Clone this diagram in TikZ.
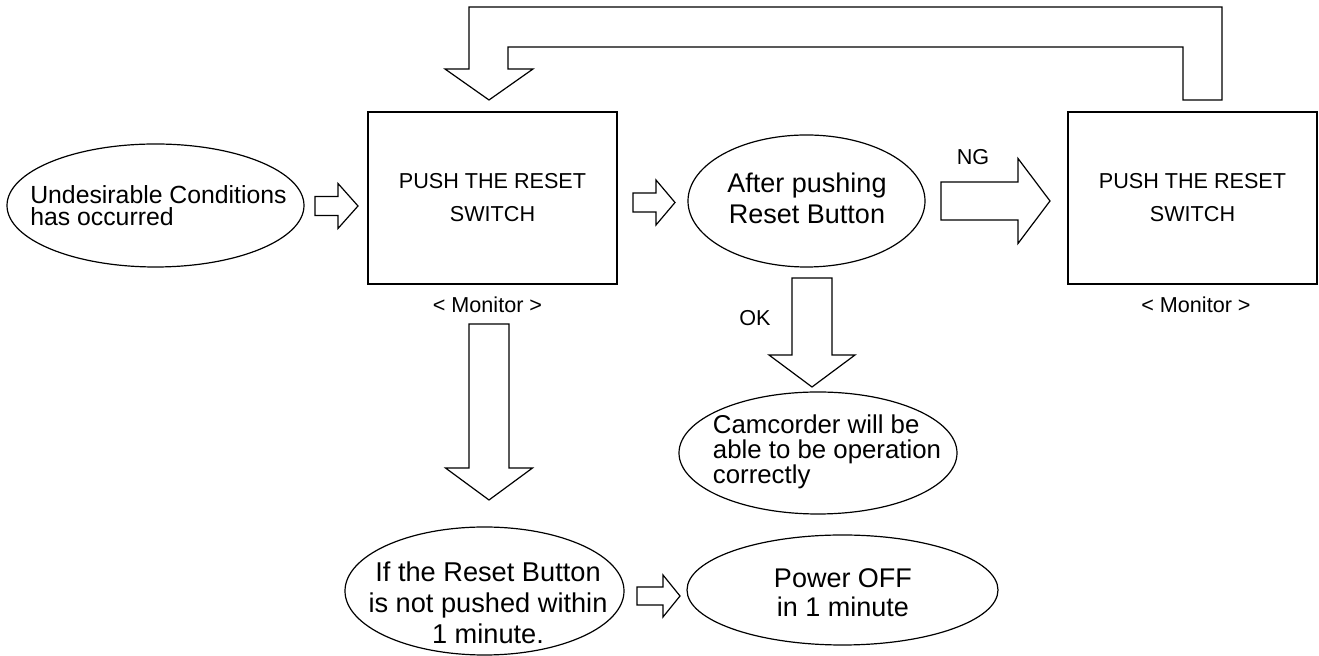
\documentclass[tikz,border=0pt]{standalone}
\usepackage{fontspec}
\setmainfont{Liberation Sans}
\usetikzlibrary{calc}
\newcommand{\setfs}[2]{\fontsize{#1}{#2}\selectfont\lineskiplimit=-\maxdimen}
% hollow block arrows: tail centre, shaft length, shaft half width, head half width, head length
\newcommand{\rightblock}[5]{\draw[hollow] ($#1+(0,#3)$) -- ++(#2,0) -- ++(0,#4-#3) -- ++(#5,-#4) -- ++(-#5,-#4) -- ++(0,#4-#3) -- ++(-#2,0) -- cycle;}
\newcommand{\downblock}[5]{\draw[hollow] ($#1+(-#3,0)$) -- ++(0,#2) -- ++(-#4+#3,0) -- ++(#4,#5) -- ++(#4,-#5) -- ++(-#4+#3,0) -- ++(0,-#2) -- cycle;}

\begin{document}
\begin{tikzpicture}[x=0.5pt,y=-0.5pt,line width=0.6pt,
  box/.style={draw,minimum width=124.5pt,minimum height=86pt,align=center,font=\setfs{10.8}{16.5}},
  lbl/.style={inner sep=0pt,font=\setfs{10.8}{13}},
  bubble/.style={inner sep=0pt,align=center},
  hollow/.style={draw,fill=white,line join=miter}]
\useasboundingbox (0,0) rectangle (1319,656);

% ovals
\node[bubble,align=left,font=\setfs{12.4}{11}] (cond) at (158.5,206) {Undesirable Conditions\\has occurred};
\draw (155.5,205.5) ellipse [x radius=148.5, y radius=61.5];
\node[bubble,font=\setfs{13.5}{15.5}] (after) at (807,198) {After pushing\\Reset Button};
\draw (806.5,201) ellipse [x radius=118.5, y radius=66];
\node[bubble,align=left,font=\setfs{12.9}{12.5}] (camc) at (827,452) {Camcorder will be\\able to be operation\\correctly};
\draw (818,453) ellipse [x radius=139, y radius=61];
\node[bubble,font=\setfs{13.6}{15.5}] (ifnot) at (488,603) {If the Reset Button\\is not pushed within\\1 minute.};
\draw (484.5,591) ellipse [x radius=139.5, y radius=64];
\node[bubble,font=\setfs{13.5}{14.5}] (power) at (843,593) {Power OFF\\in 1 minute};
\draw (842.5,590) ellipse [x radius=155.5, y radius=55];

% boxes
\node[box] (reset1) at (492.5,198) {PUSH THE RESET\\SWITCH};
\node[lbl] (mon1) at (487.5,305) {< Monitor >};
\node[box] (reset2) at (1192.5,198) {PUSH THE RESET\\SWITCH};
\node[lbl] (mon2) at (1196,305) {< Monitor >};
\node[lbl] (ng) at (973,157) {NG};
\node[lbl] (ok) at (755,318) {OK};

% arrows
\coordinate (a1) at (315,206);
\coordinate (a2) at (633,202.5);
\coordinate (a3) at (941,201);
\coordinate (a4) at (812,278);
\coordinate (a5) at (489,324);
\coordinate (a6) at (637,596);
\rightblock{(a1)}{23}{9.5}{22.5}{20}
\rightblock{(a2)}{23}{9.5}{22.5}{19}
\rightblock{(a3)}{77}{19}{42.5}{32}
\downblock{(a4)}{77}{20}{43}{32}
\downblock{(a5)}{144}{20}{43.5}{32}
\rightblock{(a6)}{26}{9}{21}{17}
\draw[hollow] (1222,100) -- (1222,7) -- (469,7) -- (469,69) -- (445,69) -- (489,100)
  -- (533,69) -- (508,69) -- (508,47) -- (1183,47) -- (1183,100) -- cycle;
\end{tikzpicture}
\end{document}
